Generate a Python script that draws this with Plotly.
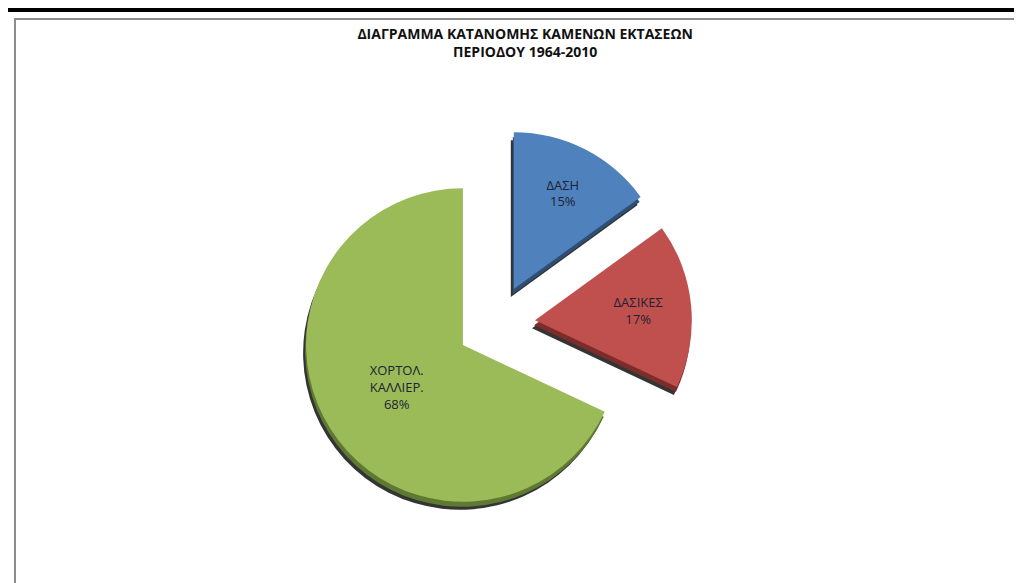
import plotly.graph_objects as go

categories = ["ΔΑΣΗ", "ΔΑΣΙΚΕΣ", "ΧΟΡΤΟΛ.<br>ΚΑΛΛΙΕΡ."]
shares = [15, 17, 68]
colors = ["#4F81BD", "#C0504D", "#9BBB59"]
edge_colors = ["#2E4E74", "#7A2D2B", "#5E7A32"]
title_lines = ["ΔΙΑΓΡΑΜΜΑ ΚΑΤΑΝΟΜΗΣ ΚΑΜΕΝΩΝ ΕΚΤΑΣΕΩΝ", "ΠΕΡΙΟΔΟΥ 1964-2010"]

W, H = 1022, 583
# pie domain in pixels (left, right, top, bottom)
px_l, px_r, px_t, px_b = 292, 684, 120, 512

def dom(dx=0, dy=0):
    return dict(x=[(px_l + dx) / W, (px_r + dx) / W],
                y=[1 - (px_b + dy) / H, 1 - (px_t + dy) / H])

common = dict(labels=categories, values=shares, sort=False, direction="clockwise",
              rotation=0, pull=[0.25, 0.25, 0.25], hoverinfo="skip", showlegend=False)

fig = go.Figure()
# drop shadow
fig.add_trace(go.Pie(**common, domain=dom(-3, 8),
                     marker=dict(colors=["#111111"] * 3, line=dict(width=0)),
                     opacity=0.85, textinfo="none"))
# 3D edge
fig.add_trace(go.Pie(**common, domain=dom(-1, 5),
                     marker=dict(colors=edge_colors, line=dict(width=0)),
                     textinfo="none"))
# top face
fig.add_trace(go.Pie(**common, domain=dom(0, 0),
                     marker=dict(colors=colors, line=dict(width=0)),
                     texttemplate="%{label}<br>%{percent:.0%}",
                     textposition="inside", insidetextorientation="horizontal",
                     insidetextfont=dict(family="Open Sans, sans-serif", size=13, color="#1C2333")))

fig.update_layout(
    width=W, height=H,
    margin=dict(l=0, r=0, t=0, b=0),
    paper_bgcolor="white", plot_bgcolor="white",
    title=dict(text="<br>".join(title_lines), x=0.506, xanchor="center",
               y=1 - 31 / H, yanchor="top",
               font=dict(family="Open Sans, sans-serif", size=14, color="#111111", weight="bold")),
    shapes=[
        dict(type="rect", xref="paper", yref="paper", x0=0, x1=1, y0=1 - 4 / H, y1=1,
             fillcolor="black", line=dict(width=0), layer="above"),
        dict(type="rect", xref="paper", yref="paper", x0=7 / W, x1=1.02, y0=-0.02, y1=1 - 11 / H,
             fillcolor="rgba(0,0,0,0)", line=dict(color="#8C8C8C", width=2), layer="above"),
    ],
)

fig.write_html("out.html")
